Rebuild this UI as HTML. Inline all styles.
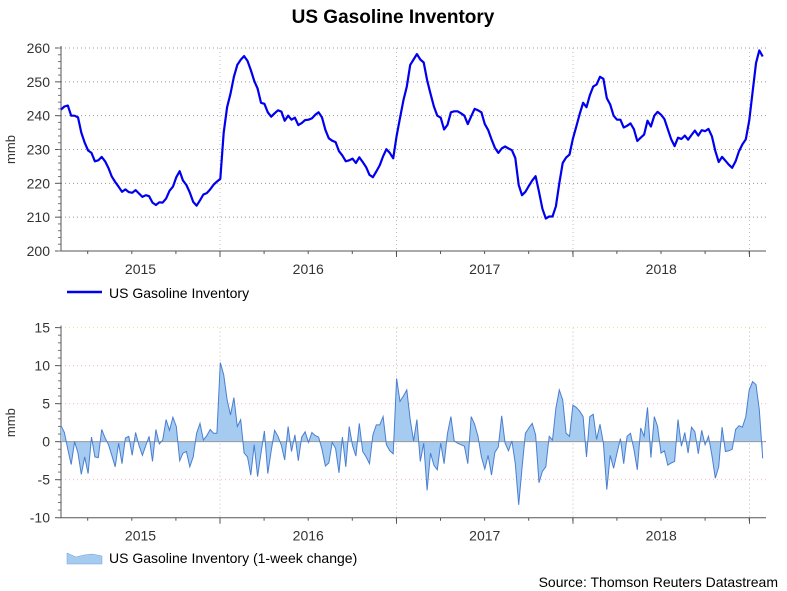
<!DOCTYPE html>
<html><head><meta charset="utf-8"><style>
body{margin:0;background:#fff;}
svg{display:block;font-family:"Liberation Sans",Arial,sans-serif;}
</style></head><body>
<svg id="c" width="787" height="591" viewBox="0 0 787 591">
<text x="393" y="23" text-anchor="middle" font-size="19" font-weight="bold" fill="#000">US Gasoline Inventory</text>
<g id="topPanel"></g>
<g id="botPanel"></g>
<g>
<line x1="67" y1="292" x2="102" y2="292" stroke="#0000ee" stroke-width="2.5"/>
<text x="109" y="298" font-size="14" fill="#000">US Gasoline Inventory</text>
</g>
<g>
<path d="M67,553 L76,557 L84,555 L92,554 L102,556 L102,564 L67,564 Z" fill="#a6cbf0" stroke="#6f9fd8" stroke-width="0.5"/>
<text x="109" y="563" font-size="14" fill="#000">US Gasoline Inventory (1-week change)</text>
</g>
<text x="778" y="587" text-anchor="end" font-size="14" fill="#000">Source: Thomson Reuters Datastream</text>
</svg>
<script>
const levels=[241.8,242.7,243,240,240,239.5,235,232,229.7,229,226.5,226.8,227.8,226.5,224.5,222,220.4,219,217.5,218.2,217.4,217.2,218,217,216,216.5,216.2,214.3,213.6,214.4,214.3,215.5,217.8,219,221.8,223.6,220.8,219.5,217.3,214.5,213.4,215,216.7,217.1,218.2,219.6,220.5,221.3,235,242.5,246.5,251.5,255,256.5,257.6,256.2,253.5,250.3,248,243.8,243.5,241,239.7,240.7,241.6,241.2,238.5,240,238.8,239.4,237.2,237.8,238.7,238.8,239.2,240.3,241,239.5,235.8,233.3,232.6,232.2,229.5,228.2,226.5,226.8,227.3,226,227.7,226.3,224.8,222.5,221.8,223.5,225.3,228,230.1,229,227.4,234,239.3,244.5,248.6,255,256.6,258.2,256.6,255.7,250.5,246.5,242.7,240,239.4,235.9,237.3,241,241.3,241.3,240.7,240,237.5,239.8,242,241.6,241,237.5,235.8,233,230.5,229,230.3,230.9,230.3,229.8,227.5,219.5,216.5,217.5,219.2,220.8,222.1,217.5,212.5,209.6,210.2,210.2,213.2,220,226,227.6,228.5,233.2,236.8,240.5,243.8,242.5,246,248.6,249.2,251.5,250.9,245.2,243.3,240,238.8,238.8,236.5,237,237.7,236,232.5,233.5,234.4,238.5,236.8,240,241.1,240.3,239,236,233,231,233.5,233.1,234.1,232.9,234.3,235.6,234.1,235.7,235.4,236.1,233.9,229.6,226.3,227.8,226.7,225.5,224.6,226.5,229.5,231.5,233,238.5,247,255.5,259.3,257.5];
const changes=[2.1,1.2,-1.0,-3.0,0,-1.5,-4.3,-2,-4.2,0.6,-2,-2.1,1.6,0.5,-0.4,-1.8,-3.3,-0.2,-2.9,0.5,0.7,-1.8,1.2,-0.5,-1.8,-0.5,0.7,-2.6,1.6,-0.3,0.2,2.9,1.5,3.2,2,-2.5,-1.5,-1.3,-3.3,-2,1.1,2.4,0.2,0.8,1.6,1.1,1.1,10.4,8.8,5.5,3.5,5.8,2,2.9,-1.5,-2,-4.4,-0.4,-4.6,-1.5,1.4,-4.2,-1.2,1.5,0.7,-0.5,-2.4,2,-1.3,0.9,-2.5,0.6,1.3,-0.1,1.2,0.8,0.6,-1,-3.2,-2.8,-0.1,-0.9,-4.1,0.6,-3.3,2,-0.5,-1.9,2.4,-1.3,-2,-2.9,0.9,2.2,2.2,3.3,-0.4,-1.2,-1.6,8.3,5.3,6,6.8,2.9,0.1,2.9,-2.6,-0.2,-6.4,-1.5,-3.1,-3.7,-0.2,-2.9,1.1,3.3,0.1,-0.2,-0.4,-0.6,-2.9,3.3,2.3,0.7,-2,-3.6,-1.8,-4.4,-1.4,-0.7,3.4,-0.2,-1.2,0.1,-2.9,-8.3,-3.5,1.1,1.8,2.4,0.9,-5.4,-3.9,-3.3,0.7,0.2,4.4,6.8,5.5,1.1,0.7,4.8,4.5,4,3.3,-2,3.3,3.6,0.3,2.3,-0.2,-6.3,-1.8,-3.5,-1.5,0.4,-2.9,0.7,1.1,-1,-3.7,1.8,0.7,4.5,-2.1,3.3,2,-1.5,-1.2,-3.1,-2.8,-2.6,2.9,-0.6,1.2,-1.5,1.9,1.3,-1.6,1.5,-0.4,0.7,-1.8,-4.8,-3.3,1.9,-1.3,-1.2,-1,1.6,2.1,1.9,3.3,6.8,7.9,7.5,4.2,-2.2];
const yearLabels=["2015","2016","2017","2018"];
const topTicks=[200,210,220,230,240,250,260];
const botTicks=[-10,-5,0,5,10,15];

const NS="http://www.w3.org/2000/svg";
const X0=61, X1=766, WK=3.39;
function xw(i){return X0+i*WK;}
function mk(p,tag,a){const e=document.createElementNS(NS,tag);for(const k in a)e.setAttribute(k,a[k]);p.appendChild(e);return e;}
const yearX=[0,1,2,3,4].map(k=>220+k*176.5);

function panel(g,yT,yB,vMin,vMax,ticks,minorStep,gridCol,prefix){
  const y=v=>yB-(v-vMin)/(vMax-vMin)*(yB-yT);
  ticks.forEach(t=>{
    if(t!==vMin){
      const gl=mk(g,'line',{x1:X0,x2:X1,y1:y(t),y2:y(t),stroke:(typeof gridCol==='function'?gridCol(t):gridCol),'stroke-width':1,'stroke-dasharray':'1,3'});
      
      
    }
    const tl=mk(g,'text',{x:X0-11,y:y(t)+5,'text-anchor':'end','font-size':14,fill:'#333'});
    tl.textContent=t;
    
    
    mk(g,'line',{x1:X0-6,x2:X0,y1:y(t),y2:y(t),stroke:'#555'});
  });
  for(let v=vMin;v<=vMax;v+=minorStep){mk(g,'line',{x1:X0-3,x2:X0,y1:y(v),y2:y(v),stroke:'#777'});}
  yearX.slice(0,4).forEach(x=>{
    const vl=mk(g,'line',{x1:x,x2:x,y1:yT,y2:yB,stroke:'#bbb','stroke-dasharray':'1,3'});
    
    
    mk(g,'line',{x1:x,x2:x,y1:yB,y2:yB+6,stroke:'#555'});
  });
  for(let q=yearX[0]-3*44.1;q<X1;q+=44.1){ if(q>X0) mk(g,'line',{x1:q,x2:q,y1:yB,y2:yB+3,stroke:'#555'}); }
  yearLabels.forEach((lab,i)=>{
    const t=mk(g,'text',{x:(yearX[i]+(i?yearX[i-1]:X0))/2,y:yB+23,'text-anchor':'middle','font-size':14,fill:'#333'});
    t.textContent=lab;
    
    
  });
  mk(g,'line',{x1:X0,x2:X0,y1:yT-2,y2:yB,stroke:'#555'});
  mk(g,'line',{x1:X0,x2:X1,y1:yB,y2:yB,stroke:'#555'});
  const yl=mk(g,'text',{x:0,y:0,'font-size':13,fill:'#333','text-anchor':'middle',transform:`translate(15,${(yT+yB)/2}) rotate(-90)`});
  yl.textContent='mmb';
  
  
  return y;
}
const topG=document.getElementById('topPanel'), botG=document.getElementById('botPanel');
const yTop=panel(topG,48,251,200,260,topTicks,2,'#999','top');
const yBot=panel(botG,327.6,517.7,-10,15,botTicks,1,t=>t===15?'#e8e0a0':'#f0b8c8','bottom');

let d=levels.map((v,i)=>(i?'L':'M')+xw(i).toFixed(1)+','+yTop(v).toFixed(1)).join('');
const line=mk(topG,'path',{d:d,fill:'none',stroke:'#0000ee','stroke-width':2.2,'stroke-linejoin':'round'});



const z=yBot(0);
let pts=changes.map((v,i)=>xw(i).toFixed(1)+','+yBot(v).toFixed(1));
const area=mk(botG,'path',{d:'M'+xw(0)+','+z+'L'+pts.join('L')+'L'+xw(changes.length-1)+','+z+'Z',fill:'#a6cbf0',stroke:'none'});


const zl=mk(botG,'line',{x1:X0,x2:X1,y1:z,y2:z,stroke:'#999','stroke-width':1});


const cl=mk(botG,'path',{d:'M'+pts.join('L'),fill:'none',stroke:'#4a7fd0','stroke-width':1});


</script>
</body></html>
